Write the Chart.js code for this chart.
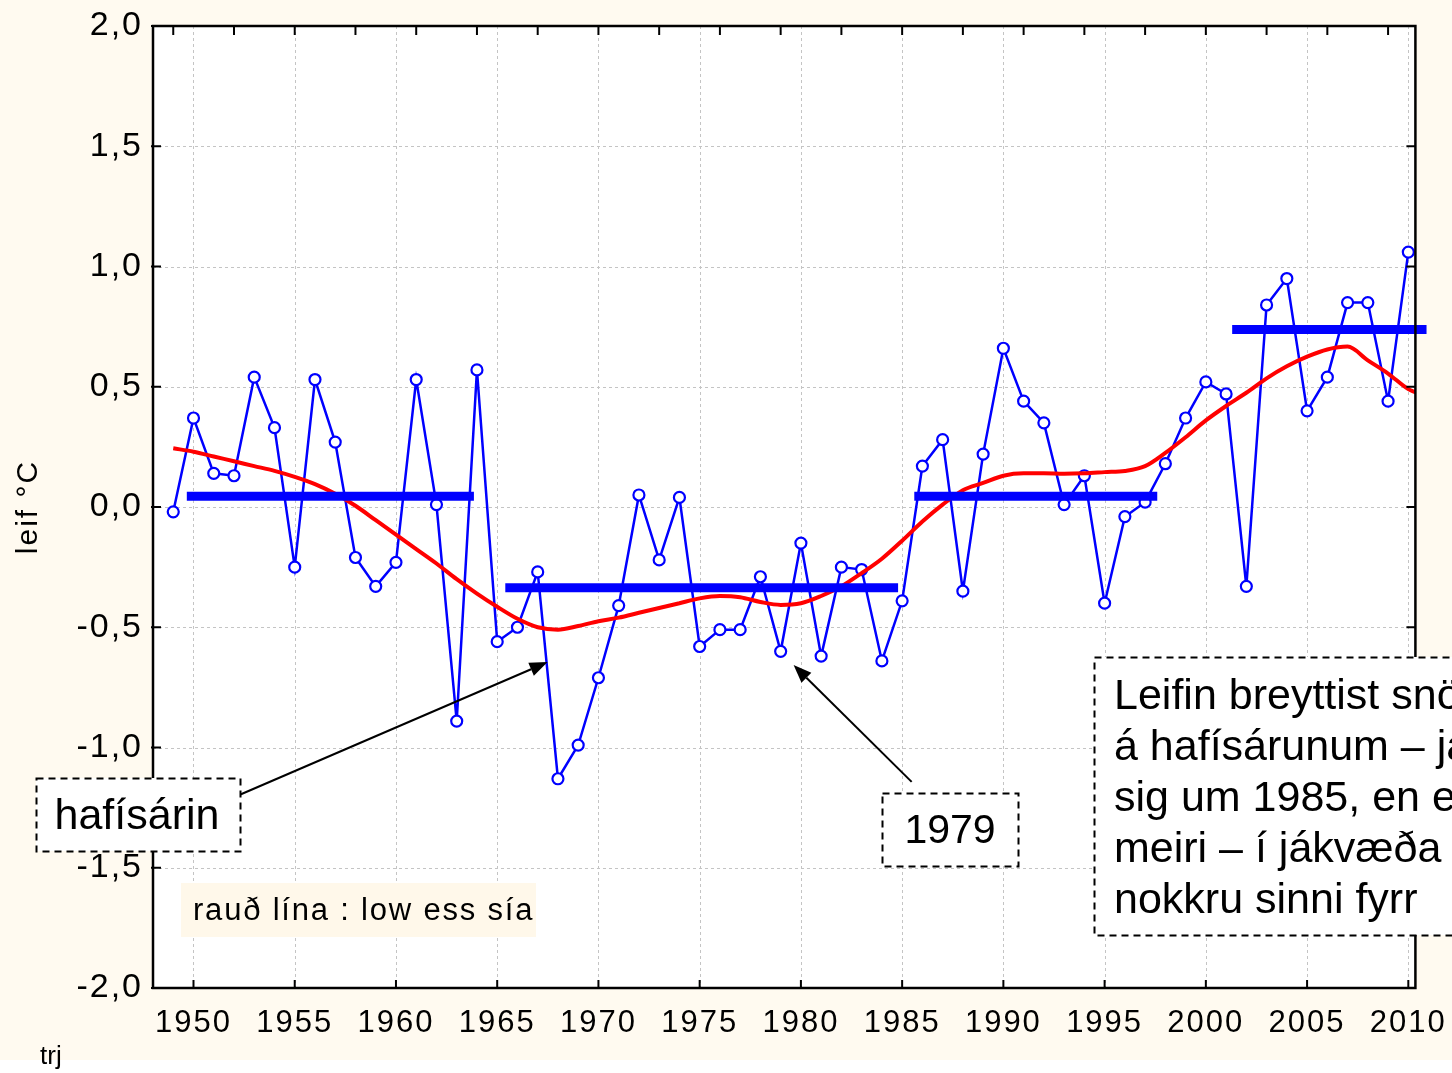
<!DOCTYPE html>
<html><head><meta charset="utf-8">
<script src="https://cdn.jsdelivr.net/npm/chart.js@4.4.1/dist/chart.umd.min.js"></script>
<style>html,body{margin:0;padding:0;background:#fff;overflow:hidden}canvas{display:block}</style>
</head><body><canvas id="c" width="1452" height="1073"></canvas>
<script>
// ---- data ----
const years = [1949,1950,1951,1952,1953,1954,1955,1956,1957,1958,1959,1960,1961,1962,1963,1964,
  1965,1966,1967,1968,1969,1970,1971,1972,1973,1974,1975,1976,1977,1978,1979,1980,1981,1982,1983,1984,
  1985,1986,1987,1988,1989,1990,1991,1992,1993,1994,1995,1996,1997,1998,1999,2000,2001,2002,2003,2004,
  2005,2006,2007,2008,2009,2010];
const leif = [-0.02,0.37,0.14,0.13,0.54,0.33,-0.25,0.53,0.27,-0.21,-0.33,-0.23,0.53,0.01,-0.89,0.57,
  -0.56,-0.50,-0.27,-1.13,-0.99,-0.71,-0.41,0.05,-0.22,0.04,-0.58,-0.51,-0.51,-0.29,-0.60,-0.15,-0.62,-0.25,-0.26,-0.64,
  -0.39,0.17,0.28,-0.35,0.22,0.66,0.44,0.35,0.01,0.13,-0.40,-0.04,0.02,0.18,0.37,0.52,0.47,-0.33,0.84,0.95,
  0.40,0.54,0.85,0.85,0.44,1.06];
const lowessYears = [1949,1950,1951,1952,1953,1954,1955,1956,1957,1958,1959,1960,1961,1962,1963,1964,
  1965,1966,1967,1968,1969,1970,1971,1972,1973,1974,1975,1976,1977,1978,1979,1980,1981,1982,1983,1984,
  1985,1986,1987,1988,1989,1990,1991,1992,1993,1994,1995,1996,1997,1998,1999,2000,2001,2002,2003,2004,
  2005,2006,2007,2008,2009,2010,2010.4];
const lowessValues = [0.244,0.23,0.21,0.19,0.17,0.15,0.125,0.095,0.055,0.005,-0.055,-0.115,-0.175,-0.235,-0.30,-0.36,
  -0.415,-0.465,-0.50,-0.51,-0.495,-0.475,-0.46,-0.44,-0.42,-0.40,-0.38,-0.37,-0.375,-0.395,-0.407,-0.40,-0.37,-0.33,-0.275,-0.215,
  -0.14,-0.06,0.01,0.07,0.10,0.13,0.14,0.14,0.138,0.14,0.145,0.15,0.17,0.225,0.29,0.36,0.42,0.475,0.535,0.585,
  0.625,0.655,0.667,0.61,0.555,0.49,0.475];
const periodStart = [1949.67, 1965.4, 1985.6, 2001.3];
const periodEnd   = [1963.85, 1984.8, 1997.6, 2010.9];
const periodMean  = [0.045, -0.336, 0.045, 0.738];
const xTickLabels = [1950,1955,1960,1965,1970,1975,1980,1985,1990,1995,2000,2005,2010];
const topTickYears = [1949,1952,1955,1958,1961,1964,1967,1970,1973,1976,1979,1982,1985,1988,1991,1994,1997,2000,2003,2006,2009];
const yTicks = [-2.0,-1.5,-1.0,-0.5,0.0,0.5,1.0,1.5,2.0];

const F = '"Liberation Sans", Arial, sans-serif';

const datasets = [
  { label:'leif', data: years.map((y,i)=>({x:y,y:leif[i]})), borderColor:'#0000ff', borderWidth:2.5,
    pointRadius:5.5, pointBorderWidth:2.2, pointBackgroundColor:'#ffffff', pointBorderColor:'#0000ff',
    tension:0, order:3 },
  { label:'lowess', data: lowessYears.map((y,i)=>({x:y,y:lowessValues[i]})), borderColor:'#ff0000', borderWidth:4,
    pointRadius:0, cubicInterpolationMode:'monotone', order:2 }
];
periodStart.forEach((s,i)=>{
  datasets.push({ label:'mean'+i, data:[{x:s,y:periodMean[i]},{x:periodEnd[i],y:periodMean[i]}],
    borderColor:'#0000ff', borderWidth:9, borderCapStyle:'butt', pointRadius:0, clip:false, order:1 });
});

function arrow(ctx,x1,y1,x2,y2){
  ctx.beginPath(); ctx.moveTo(x1,y1);
  const ang=Math.atan2(y2-y1,x2-x1), L=18, W=7;
  const bx=x2-L*Math.cos(ang), by=y2-L*Math.sin(ang);
  ctx.lineTo(bx,by); ctx.stroke();
  ctx.beginPath(); ctx.moveTo(x2,y2);
  ctx.lineTo(bx+W*Math.sin(ang), by-W*Math.cos(ang));
  ctx.lineTo(bx-W*Math.sin(ang), by+W*Math.cos(ang));
  ctx.closePath(); ctx.fill();
}
function dashedBox(ctx,x,y,w,h){
  ctx.save(); ctx.fillStyle='#ffffff'; ctx.fillRect(x,y,w,h);
  ctx.setLineDash([7,5]); ctx.lineWidth=2; ctx.strokeStyle='#000';
  ctx.strokeRect(x+0.5,y+0.5,w,h); ctx.restore();
}

const deco = {
  id:'deco',
  beforeDraw(chart){
    const ctx=chart.ctx, a=chart.chartArea, xs=chart.scales.x, ys=chart.scales.y;
    ctx.save();
    ctx.fillStyle='#FFFAF0'; ctx.fillRect(0,0,1452,1060);
    ctx.fillStyle='#ffffff'; ctx.fillRect(0,1060,1452,13);
    ctx.fillRect(a.left,a.top,a.right-a.left,a.bottom-a.top);
    ctx.strokeStyle='#c4c4c4'; ctx.lineWidth=1; ctx.setLineDash([3,3]);
    xTickLabels.forEach(v=>{const px=Math.round(xs.getPixelForValue(v))+0.5;
      ctx.beginPath(); ctx.moveTo(px,a.top); ctx.lineTo(px,a.bottom); ctx.stroke();});
    yTicks.forEach(v=>{const py=Math.round(ys.getPixelForValue(v))+0.5;
      ctx.beginPath(); ctx.moveTo(a.left,py); ctx.lineTo(a.right,py); ctx.stroke();});
    ctx.restore();
    ctx.letterSpacing='2px';
  },
  beforeDatasetsDraw(chart){ chart.ctx.letterSpacing='0px'; },
  afterDraw(chart){
    const ctx=chart.ctx, a=chart.chartArea, xs=chart.scales.x, ys=chart.scales.y;
    ctx.save();
    ctx.letterSpacing='0px';
    // frame
    ctx.strokeStyle='#000'; ctx.lineWidth=2.5;
    ctx.strokeRect(a.left,a.top,a.right-a.left,a.bottom-a.top);
    ctx.lineWidth=2;
    yTicks.forEach(v=>{const py=ys.getPixelForValue(v);
      ctx.beginPath(); ctx.moveTo(a.left-2,py); ctx.lineTo(a.left+8,py); ctx.stroke();
      ctx.beginPath(); ctx.moveTo(a.right-9,py); ctx.lineTo(a.right,py); ctx.stroke();});
    xTickLabels.forEach(v=>{const px=xs.getPixelForValue(v);
      ctx.beginPath(); ctx.moveTo(px,a.bottom); ctx.lineTo(px,a.bottom-8); ctx.stroke();});
    topTickYears.forEach(v=>{const px=xs.getPixelForValue(v);
      ctx.beginPath(); ctx.moveTo(px,a.top); ctx.lineTo(px,a.top+9); ctx.stroke();});
    // legend note
    ctx.fillStyle='#FFF8EA'; ctx.fillRect(181,883,355,54);
    ctx.fillStyle='#000'; ctx.font='31px '+F; ctx.textBaseline='middle'; ctx.textAlign='left';
    ctx.letterSpacing='1.8px';
    ctx.fillText('rauð lína : low ess sía',193,911);
    ctx.letterSpacing='0px';
    // arrows
    ctx.strokeStyle='#000'; ctx.fillStyle='#000'; ctx.lineWidth=2;
    arrow(ctx, xs.getPixelForValue(1952.03), ys.getPixelForValue(-1.206), xs.getPixelForValue(1967.49), ys.getPixelForValue(-0.645));
    arrow(ctx, xs.getPixelForValue(1985.47), ys.getPixelForValue(-1.143), xs.getPixelForValue(1979.64), ys.getPixelForValue(-0.657));
    // boxes
    dashedBox(ctx,36,778,204,73);
    dashedBox(ctx,882,793,136,73);
    dashedBox(ctx,1094,657,400,278);
    ctx.fillStyle='#000'; ctx.textBaseline='middle';
    ctx.textAlign='center';
    ctx.font='43px '+F;
    ctx.fillText('hafísárin',137,817);
    ctx.font='41px '+F;
    ctx.fillText('1979',950,832);
    ctx.textAlign='left';
    ctx.font='43px '+F;
    const lines=['Leifin breyttist snögglega','á hafísárunum – jafnaði','sig um 1985, en enn','meiri – í jákvæða átt en','nokkru sinni fyrr'];
    lines.forEach((t,i)=>ctx.fillText(t,1114,697+i*51));
    // trj
    ctx.font='26px '+F; ctx.textBaseline='alphabetic';
    ctx.fillText('trj',40,1064);
    ctx.restore();
  }
};

new Chart(document.getElementById('c'), {
  type:'line',
  data:{ datasets },
  options:{
    responsive:false, animation:false, devicePixelRatio:1,
    layout:{ padding:{ top:26, right:36, left:0, bottom:0 } },
    plugins:{ legend:{display:false}, tooltip:{enabled:false} },
    scales:{
      x:{ type:'linear', min:1948, max:2010.35,
        grid:{display:false}, border:{display:false},
        afterBuildTicks:s=>{ s.ticks = xTickLabels.map(v=>({value:v})); },
        afterFit:s=>{ s.height = 85; },
        ticks:{ color:'#000', font:{family:F, size:31}, padding:9, maxRotation:0, autoSkip:false,
          callback:v=>String(v) } },
      y:{ type:'linear', min:-2, max:2,
        grid:{display:false}, border:{display:false},
        afterBuildTicks:s=>{ s.ticks = yTicks.map(v=>({value:v})); },
        afterFit:s=>{ s.width = 153; },
        title:{ display:true, text:'leif °C', color:'#000', font:{family:F, size:30}, padding:{top:11,bottom:0} },
        ticks:{ color:'#000', font:{family:F, size:34}, padding:2,
          callback:v=>v.toFixed(1).replace('.',',') } }
    }
  },
  plugins:[deco]
});
</script></body></html>
